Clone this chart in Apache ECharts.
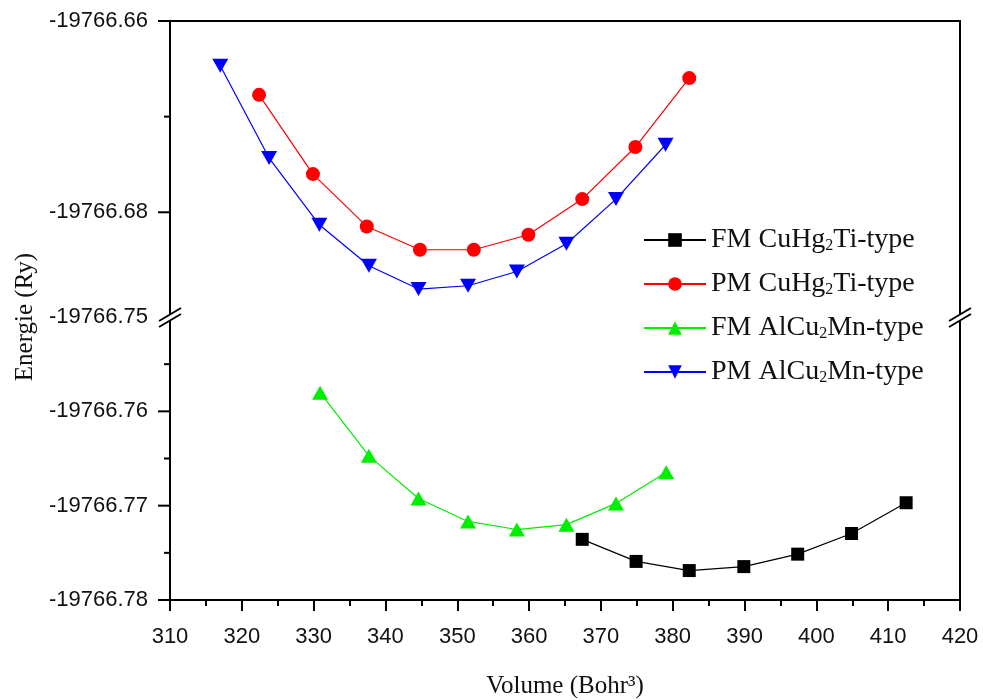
<!DOCTYPE html>
<html><head><meta charset="utf-8">
<script src="https://cdn.jsdelivr.net/npm/echarts@6/dist/echarts.min.js"></script>
<style>html,body{margin:0;padding:0;background:#fff}#c{width:983px;height:700px}</style>
</head><body><div id="c"></div>
<script>
// ---- data ----
const names = ['FM CuHg2Ti-type', 'PM CuHg2Ti-type', 'FM AlCu2Mn-type', 'PM AlCu2Mn-type'];

const volFmCuHg2Ti = [367.4, 374.9, 382.3, 389.9, 397.4, 404.9, 412.5];
const eFmCuHg2Ti = [-19766.77357, -19766.77591, -19766.77688, -19766.77646, -19766.77514, -19766.77295, -19766.76969];

const volPmCuHg2Ti = [322.4, 329.9, 337.4, 344.8, 352.3, 359.9, 367.4, 374.8, 382.3];
const ePmCuHg2Ti = [-19766.66772, -19766.67601, -19766.68148, -19766.68392, -19766.68392, -19766.68235, -19766.67862, -19766.67318, -19766.66597];

const volFmAlCu2Mn = [330.9, 337.7, 344.6, 351.5, 358.3, 365.2, 372.1, 379.1];
const eFmAlCu2Mn = [-19766.75802, -19766.76472, -19766.76924, -19766.77167, -19766.77253, -19766.77201, -19766.76976, -19766.76646];

const volPmAlCu2Mn = [317.0, 323.8, 330.8, 337.7, 344.6, 351.5, 358.3, 365.2, 372.1, 379.0];
const ePmAlCu2Mn = [-19766.66468, -19766.67433, -19766.68131, -19766.68559, -19766.68803, -19766.68768, -19766.68619, -19766.68329, -19766.67862, -19766.67294];

const xTicks = [310, 320, 330, 340, 350, 360, 370, 380, 390, 400, 410, 420];
const yTopTicks = [-19766.66, -19766.68];
const yTopMinor = [-19766.67];
const yBotTicks = [-19766.75, -19766.76, -19766.77, -19766.78];
const yBotMinor = [-19766.755, -19766.765, -19766.775];
const yTopRange = [-19766.69095, -19766.66];
const yBotRange = [-19766.78, -19766.75];

// ---- chart ----
const zip = (xs, ys) => xs.map((x, i) => [x, ys[i]]);
const sans = "'Liberation Sans', Arial, sans-serif";
const serif = "'Liberation Serif', 'Times New Roman', serif";
const black = '#000';

const chart = echarts.init(document.getElementById('c'));

const yBase = (grid, range, pos) => ({
  type: 'value', gridIndex: grid, position: pos, min: range[0], max: range[1],
  splitLine: { show: false }, scale: true
});

const option = {
  animation: false,
  backgroundColor: '#fff',
  grid: [
    { left: 170, right: 23, top: 21, height: 296 },
    { left: 170, right: 23, top: 317, height: 288 }
  ],
  xAxis: [
    { type: 'value', gridIndex: 0, position: 'top', min: xTicks[0], max: xTicks[xTicks.length - 1],
      axisLine: { show: true, lineStyle: { color: black, width: 2 } },
      axisTick: { show: false }, axisLabel: { show: false }, splitLine: { show: false } },
    { type: 'value', gridIndex: 1, position: 'bottom', min: xTicks[0], max: xTicks[xTicks.length - 1], interval: 10,
      axisLine: { show: true, lineStyle: { color: black, width: 2 } },
      axisTick: { show: true, length: 11, lineStyle: { color: black, width: 2 } },
      minorTick: { show: true, splitNumber: 2, length: 6, lineStyle: { color: black, width: 2 } },
      axisLabel: { fontSize: 22, fontFamily: sans, color: '#111', margin: 26 },
      splitLine: { show: false },
      name: 'Volume (Bohr³)', nameLocation: 'middle', nameGap: 74,
      nameTextStyle: { fontFamily: serif, fontSize: 25, color: '#111' } }
  ],
  yAxis: [
    Object.assign(yBase(0, yTopRange, 'left'), {
      axisLine: { show: true, onZero: false, lineStyle: { color: black, width: 2 } },
      axisTick: { show: false },
      axisLabel: { customValues: yTopTicks, fontSize: 22, fontFamily: sans, color: '#111', margin: 22,
        formatter: v => Number(v).toFixed(2) }
    }),
    Object.assign(yBase(1, yBotRange, 'left'), {
      axisLine: { show: true, onZero: false, lineStyle: { color: black, width: 2 } },
      axisTick: { show: false },
      axisLabel: { customValues: yBotTicks, fontSize: 22, fontFamily: sans, color: '#111', margin: 22,
        formatter: v => Number(v).toFixed(2) }
    }),
    Object.assign(yBase(0, yTopRange, 'right'), {
      axisLine: { show: true, onZero: false, lineStyle: { color: black, width: 2 } },
      axisTick: { show: false }, axisLabel: { show: false }
    }),
    Object.assign(yBase(1, yBotRange, 'right'), {
      axisLine: { show: true, onZero: false, lineStyle: { color: black, width: 2 } },
      axisTick: { show: false }, axisLabel: { show: false }
    })
  ],
  legend: {
    orient: 'vertical', left: 638, top: 221, itemWidth: 62, itemHeight: 17, itemGap: 16,
    data: names,
    formatter: n => n.replace('2', '{s|2}'),
    textStyle: {
      fontFamily: serif, fontSize: 28, color: '#111', lineHeight: 28, padding: [0, 0, 0, 0],
      rich: { s: { fontFamily: serif, fontSize: 16, lineHeight: 18, verticalAlign: 'bottom', padding: [10, 0, 0, 0], color: '#111' } }
    }
  },
  series: [
    { name: names[0], type: 'line', xAxisIndex: 1, yAxisIndex: 1, data: zip(volFmCuHg2Ti, eFmCuHg2Ti),
      symbol: 'rect', symbolSize: 13, itemStyle: { color: '#000' }, lineStyle: { color: '#000', width: 1.2 } },
    { name: names[1], type: 'line', xAxisIndex: 0, yAxisIndex: 0, data: zip(volPmCuHg2Ti, ePmCuHg2Ti),
      symbol: 'circle', symbolSize: 14, itemStyle: { color: '#ff0000' }, lineStyle: { color: '#ff0000', width: 1.2 } },
    { name: names[2], type: 'line', xAxisIndex: 1, yAxisIndex: 1, data: zip(volFmAlCu2Mn, eFmAlCu2Mn),
      symbol: 'triangle', symbolSize: [16, 14], itemStyle: { color: '#00ee00' }, lineStyle: { color: '#00ee00', width: 1.2 } },
    { name: names[3], type: 'line', xAxisIndex: 0, yAxisIndex: 0, data: zip(volPmAlCu2Mn, ePmAlCu2Mn),
      symbol: 'triangle', symbolRotate: 180, symbolSize: [16, 14], itemStyle: { color: '#0000ff' }, lineStyle: { color: '#0000ff', width: 1.2 } }
  ]
};
chart.setOption(option);

// y ticks, axis-break marks and y-axis title, positioned through the axes
const yb = chart.convertToPixel({ yAxisIndex: 1 }, yBotRange[1]);
const xl = chart.convertToPixel({ xAxisIndex: 1 }, xTicks[0]);
const xr = chart.convertToPixel({ xAxisIndex: 1 }, xTicks[xTicks.length - 1]);
const tickLines = (axisIdx, vals, len) => vals.map(v => {
  const y = chart.convertToPixel({ yAxisIndex: axisIdx }, v);
  return { type: 'line', shape: { x1: xl - len, y1: y, x2: xl, y2: y }, style: { stroke: '#000', lineWidth: 2 }, z: 99 };
});
const breakMark = x => ([
  { type: 'polygon', shape: { points: [[x - 11, yb + 4], [x + 11, yb - 9], [x + 11, yb - 3], [x - 11, yb + 10]] },
    style: { fill: '#fff' }, z: 100 },
  { type: 'line', shape: { x1: x - 11, y1: yb + 4, x2: x + 11, y2: yb - 9 }, style: { stroke: '#000', lineWidth: 2 }, z: 101 },
  { type: 'line', shape: { x1: x - 11, y1: yb + 10, x2: x + 11, y2: yb - 3 }, style: { stroke: '#000', lineWidth: 2 }, z: 101 }
]);
chart.setOption({
  graphic: [
    ...tickLines(0, yTopTicks.filter(v => v !== yTopRange[0]), 12),
    ...tickLines(1, yBotTicks.filter(v => v !== yBotRange[1]), 12),
    ...tickLines(0, yTopMinor, 6),
    ...tickLines(1, yBotMinor, 6),
    ...breakMark(xl), ...breakMark(xr),
    { type: 'text', x: 25, y: yb, rotation: Math.PI / 2,
      style: { text: 'Energie (Ry)', font: '25px ' + serif, fill: '#111', textAlign: 'center', textVerticalAlign: 'middle' } }
  ]
});
</script>
</body></html>
